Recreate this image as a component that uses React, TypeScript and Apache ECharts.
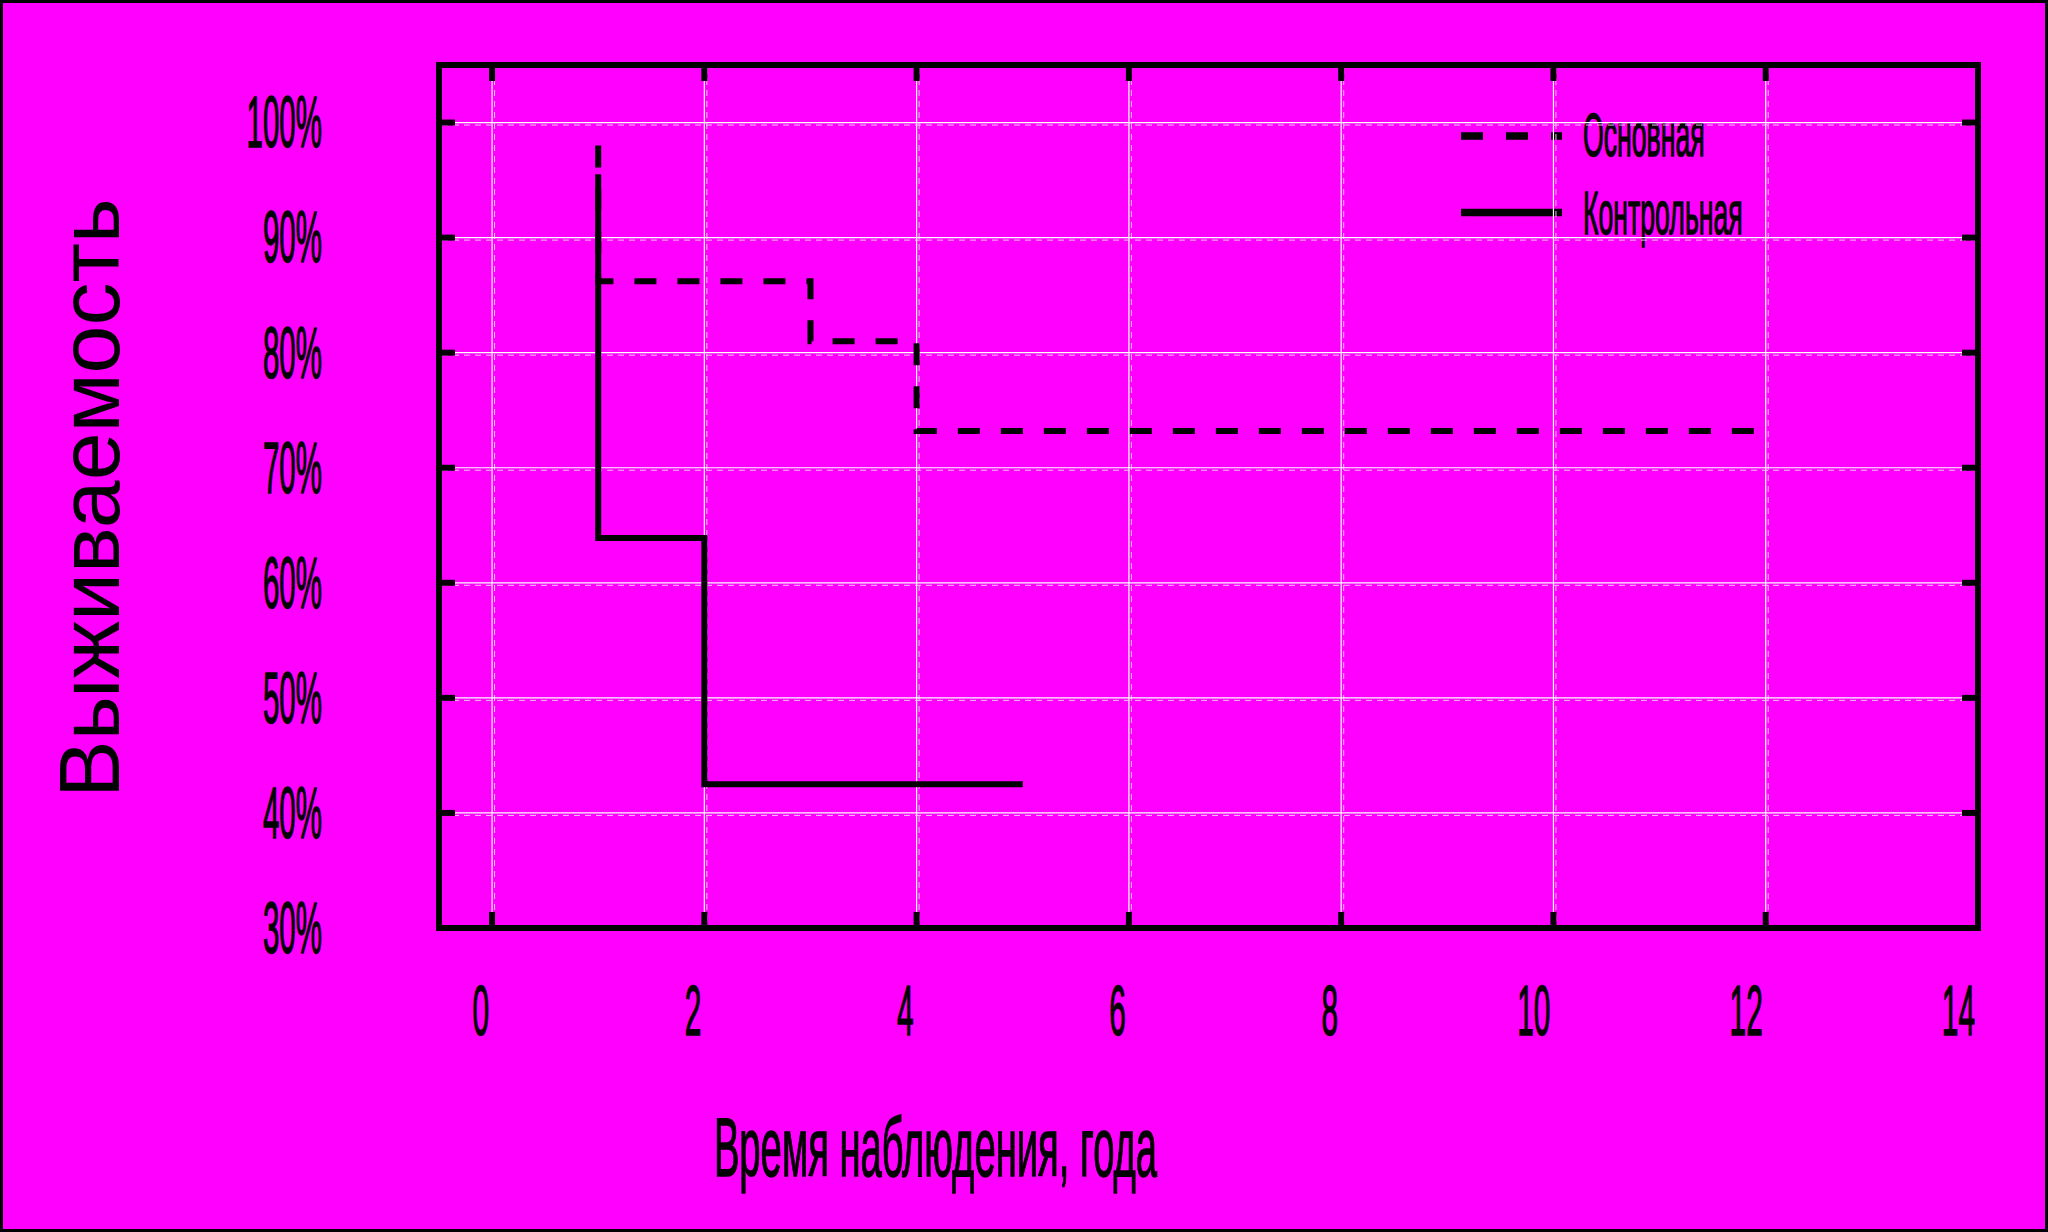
import React, { useEffect, useRef } from 'react';
import * as echarts from 'echarts';

const groupNames = ['Основная', 'Контрольная'];
const mainTimes = [1, 1, 3, 4, 12];
const mainSurvival = [98, 86.2, 81.0, 73.2, 73.2];
const controlTimes = [1, 1, 2, 5];
const controlSurvival = [95.5, 63.9, 42.5, 42.5];
const xTicks = [0, 2, 4, 6, 8, 10, 12, 14];
const xTickLabels = xTicks.map((v) => String(v));
const yTicks = [30, 40, 50, 60, 70, 80, 90, 100];
const yTickLabels = yTicks.map((v) => v + '%');
const xAxisTitle = 'Время наблюдения, года';
const yAxisTitle = 'Выживаемость';

const X_MIN = -0.5;
const X_MAX = 14;
const Y_MIN = 30;
const Y_MAX = 105;
const FONT = '"Liberation Sans", Arial, sans-serif';
const TEXT_STROKE = 1.4;

export default function App() {
  const ref = useRef<HTMLDivElement>(null);

  useEffect(() => {
    document.body.style.margin = '0';
    const chart = echarts.init(ref.current as HTMLDivElement, null, { renderer: 'svg' });

    const xDecor = (params: any, api: any) => {
      const cs = params.coordSys;
      const v = api.value(0);
      const px = api.coord([v, Y_MIN])[0];
      const top = cs.y;
      const bottom = cs.y + cs.height;
      const children: any[] = [];
      if (v !== X_MIN && v !== X_MAX) {
        children.push(
          { type: 'line', shape: { x1: px, y1: top + 3, x2: px, y2: bottom - 3 }, style: { stroke: '#ffffff', lineWidth: 1.2 } },
          { type: 'line', shape: { x1: px + 2.5, y1: top + 3, x2: px + 2.5, y2: bottom - 3 }, style: { stroke: '#f0c4f0', lineWidth: 1, lineDash: [6, 5] } },
          { type: 'line', shape: { x1: px, y1: bottom - 3, x2: px, y2: bottom - 16 }, style: { stroke: '#000', lineWidth: 6 } },
          { type: 'line', shape: { x1: px, y1: top + 3, x2: px, y2: top + 16 }, style: { stroke: '#000', lineWidth: 6 } }
        );
      }
      children.push({
        type: 'text',
        x: px - 3,
        y: 1011,
        scaleX: 0.42,
        style: {
          text: xTickLabels[params.dataIndex],
          fill: '#000',
          stroke: '#000',
          lineWidth: TEXT_STROKE,
          fontSize: 71,
          fontFamily: FONT,
          align: 'right',
          verticalAlign: 'middle',
        },
      });
      return { type: 'group', children };
    };

    const yDecor = (params: any, api: any) => {
      const cs = params.coordSys;
      const v = api.value(1);
      const py = api.coord([X_MIN, v])[1];
      const left = cs.x;
      const right = cs.x + cs.width;
      const children: any[] = [];
      if (v !== Y_MIN && v !== Y_MAX) {
        children.push(
          { type: 'line', shape: { x1: left + 3, y1: py, x2: right - 3, y2: py }, style: { stroke: '#ffffff', lineWidth: 1.2 } },
          { type: 'line', shape: { x1: left + 3, y1: py + 2.5, x2: right - 3, y2: py + 2.5 }, style: { stroke: '#f0c4f0', lineWidth: 1, lineDash: [6, 5] } },
          { type: 'line', shape: { x1: left + 3, y1: py, x2: left + 16, y2: py }, style: { stroke: '#000', lineWidth: 6 } },
          { type: 'line', shape: { x1: right - 16, y1: py, x2: right - 3, y2: py }, style: { stroke: '#000', lineWidth: 6 } }
        );
      }
      children.push({
        type: 'text',
        x: 322,
        y: py,
        scaleX: 0.41,
        style: {
          text: yTickLabels[params.dataIndex],
          fill: '#000',
          stroke: '#000',
          lineWidth: TEXT_STROKE,
          fontSize: 72,
          fontFamily: FONT,
          align: 'right',
          verticalAlign: 'middle',
        },
      });
      return { type: 'group', children };
    };

    chart.setOption({
      animation: false,
      backgroundColor: '#ff00ff',
      grid: {
        left: 439,
        right: 70,
        top: 65,
        bottom: 304,
        show: true,
        borderColor: '#000',
        borderWidth: 6,
        backgroundColor: 'transparent',
      },
      xAxis: {
        type: 'value',
        min: X_MIN,
        max: X_MAX,
        axisLine: { show: false },
        axisTick: { show: false },
        axisLabel: { show: false },
        splitLine: { show: false },
      },
      yAxis: {
        type: 'value',
        min: Y_MIN,
        max: Y_MAX,
        interval: 10,
        axisLine: { show: false },
        axisTick: { show: false },
        axisLabel: { show: false },
        splitLine: { show: false },
      },
      series: [
        {
          type: 'custom',
          name: 'xDecor',
          z: 1,
          clip: false,
          silent: true,
          encode: { x: 0, y: 1 },
          data: xTicks.map((v) => [v, Y_MIN]),
          renderItem: xDecor,
        },
        {
          type: 'custom',
          name: 'yDecor',
          z: 1,
          clip: false,
          silent: true,
          encode: { x: 0, y: 1 },
          data: yTicks.map((v) => [X_MIN, v]),
          renderItem: yDecor,
        },
        {
          type: 'line',
          name: groupNames[0],
          z: 3,
          step: 'end',
          symbol: 'none',
          data: mainTimes.map((t, i) => [t, mainSurvival[i]]),
          lineStyle: { color: '#000', width: 6, type: [22, 21], cap: 'butt', join: 'miter' },
        },
        {
          type: 'line',
          name: groupNames[1],
          z: 3,
          step: 'end',
          symbol: 'none',
          data: controlTimes.map((t, i) => [t, controlSurvival[i]]),
          lineStyle: { color: '#000', width: 6, type: 'solid', cap: 'butt', join: 'miter' },
        },
      ],
      graphic: [
        {
          type: 'rect',
          silent: true,
          shape: { x: 1.5, y: 1.5, width: 2045, height: 1229 },
          style: { fill: 'transparent', stroke: '#000', lineWidth: 3 },
        },
        {
          type: 'line',
          silent: true,
          shape: { x1: 1461, y1: 136, x2: 1562, y2: 136 },
          style: { stroke: '#000', lineWidth: 7.5, lineDash: [22, 23] },
        },
        {
          type: 'text',
          x: 1583,
          y: 135,
          scaleX: 0.43,
          style: { text: groupNames[0], fill: '#000', stroke: '#000', lineWidth: TEXT_STROKE, fontSize: 62, fontFamily: FONT, align: 'left', verticalAlign: 'middle' },
        },
        {
          type: 'line',
          silent: true,
          shape: { x1: 1461, y1: 212.5, x2: 1562, y2: 212.5 },
          style: { stroke: '#000', lineWidth: 7.5 },
        },
        {
          type: 'text',
          x: 1583,
          y: 213,
          scaleX: 0.43,
          style: { text: groupNames[1], fill: '#000', stroke: '#000', lineWidth: TEXT_STROKE, fontSize: 62, fontFamily: FONT, align: 'left', verticalAlign: 'middle' },
        },
        {
          type: 'text',
          x: 935.5,
          y: 1147,
          scaleX: 0.455,
          style: { text: xAxisTitle, fill: '#000', stroke: '#000', lineWidth: TEXT_STROKE, fontSize: 84, fontFamily: FONT, align: 'center', verticalAlign: 'middle' },
        },
        {
          type: 'text',
          x: 89,
          y: 498,
          rotation: Math.PI / 2,
          style: { text: yAxisTitle, fill: '#000', fontSize: 86, fontFamily: FONT, align: 'center', verticalAlign: 'middle' },
        },
      ],
    });

    return () => {
      chart.dispose();
    };
  }, []);

  return <div ref={ref} style={{ width: 2048, height: 1232 }} />;
}
